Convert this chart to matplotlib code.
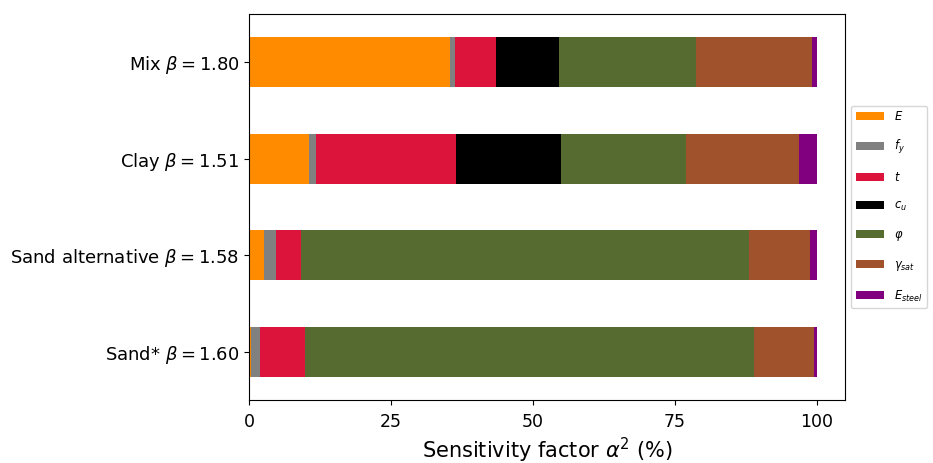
import numpy as np
import matplotlib.pyplot as plt

# cases, bottom to top
cases = [r'Sand* $\beta = 1.60$', r'Sand alternative $\beta = 1.58$',
         r'Clay $\beta = 1.51$', r'Mix $\beta = 1.80$']

# sensitivity factors alpha^2 (%) per variable, one value per case
E = [0.4, 2.6, 10.5, 35.4]
fy = [1.6, 2.2, 1.2, 0.9]
t = [7.8, 4.4, 24.8, 7.1]
cu = [0.0, 0.0, 18.5, 11.1]
phi = [79.2, 78.8, 22.0, 24.2]
gamma_sat = [10.4, 10.7, 19.8, 20.4]
E_steel = [0.6, 1.3, 3.2, 0.9]

labels = [r'$E$', r'$f_y$', r'$t$', r'$c_u$', r'$\varphi$', r'$\gamma_{sat}$', r'$E_{steel}$']
colors = ['darkorange', 'gray', 'crimson', 'black', 'darkolivegreen', 'sienna', 'purple']
series = [E, fy, t, cu, phi, gamma_sat, E_steel]

fig = plt.figure(figsize=(9.33, 4.63), dpi=100)
ax = fig.add_axes([0.267, 0.136, 0.639, 0.834])

y = np.arange(len(cases))
left = np.zeros(len(cases))
for vals, lab, col in zip(series, labels, colors):
    ax.barh(y, vals, height=0.52, left=left, color=col, label=lab)
    left += np.array(vals)

ax.set_yticks(y)
ax.set_yticklabels(cases, fontsize=13)
ax.set_ylim(-0.5, 3.5)
ax.set_xlim(0, 105)
ax.set_xticks([0, 25, 50, 75, 100])
ax.tick_params(axis='x', labelsize=12.5, pad=6)
ax.set_xlabel(r'Sensitivity factor $\alpha^2$ (%)', fontsize=15, labelpad=3)

ax.legend(loc='center left', bbox_to_anchor=(1.0, 0.5), fontsize=8.3,
          handlelength=2.5, labelspacing=1.3)

fig.savefig('out.png')
